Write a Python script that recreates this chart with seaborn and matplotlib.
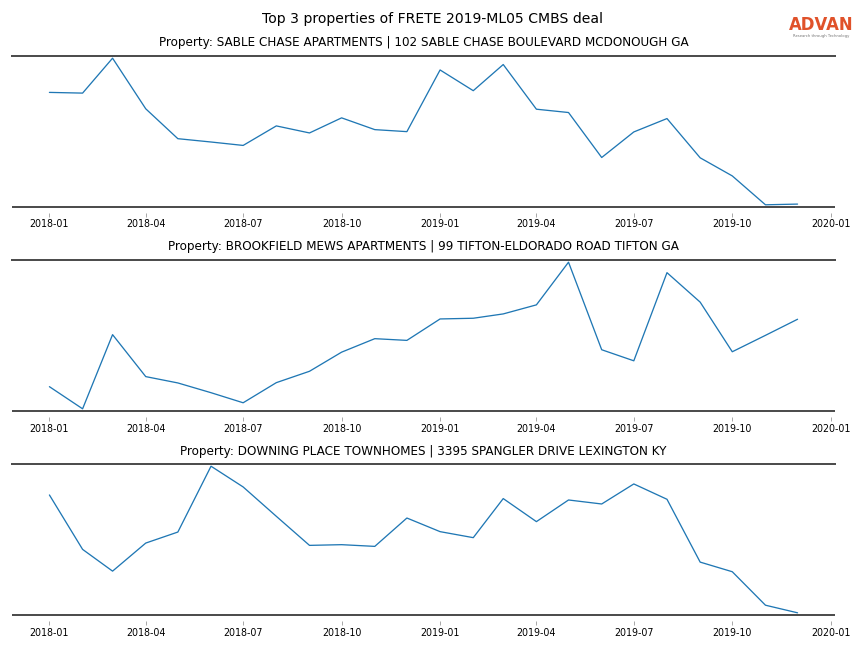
import matplotlib
matplotlib.use("Agg")
import matplotlib.pyplot as plt
import matplotlib.dates as mdates
import pandas as pd
import seaborn as sns

months = pd.date_range("2018-01-01", "2019-12-01", freq="MS")

titles = [
    "Property: SABLE CHASE APARTMENTS | 102 SABLE CHASE BOULEVARD MCDONOUGH GA",
    "Property: BROOKFIELD MEWS APARTMENTS | 99 TIFTON-ELDORADO ROAD TIFTON GA",
    "Property: DOWNING PLACE TOWNHOMES | 3395 SPANGLER DRIVE LEXINGTON KY",
]

# visits (relative units, no y axis shown)
sable_chase = [113, 112.3, 147, 96.7, 67, 63.7, 60.3, 79.7, 72.7, 87.7, 76, 74,
               135.3, 114.7, 140.7, 96.3, 93, 48.3, 73.7, 87, 48, 30, 1.3, 2]
brookfield = [24, 2, 75.7, 34, 27.7, 18, 8, 28, 39.3, 58.3, 71.7, 70,
              91.3, 92, 96.3, 105.3, 147.7, 60.7, 49.7, 137.3, 108, 58.7, 75, 91]
downing = [119.3, 65, 43.3, 71.3, 82.3, 148, 127.3, 98, 69, 69.7, 68, 96.3,
           82.7, 76.7, 115.7, 92.7, 114.3, 110.3, 130.3, 115, 52.3, 42.7, 9.3, 1.7]

series = [sable_chase, brookfield, downing]

sns.set_style("white")

fig, axes = plt.subplots(3, 1, figsize=(12, 9), dpi=72)
fig.subplots_adjust(left=0.0139, right=0.9664, top=0.9136, bottom=0.0509, hspace=0.351)

for ax, title, values in zip(axes, titles, series):
    df = pd.DataFrame({"date": months, "visits": values})
    sns.lineplot(data=df, x="date", y="visits", ax=ax, color="#1f77b4", linewidth=1.3)
    ax.margins(y=0.015)
    ax.set_title(title, fontsize=12, pad=9.5, color="black")
    ax.set_xlabel("")
    ax.set_ylabel("")
    ax.set_yticks([])
    ax.xaxis.set_major_locator(mdates.MonthLocator(bymonth=[1, 4, 7, 10]))
    ax.xaxis.set_major_formatter(mdates.DateFormatter("%Y-%m"))
    ax.tick_params(axis="x", bottom=True, direction="out", length=3.5, width=1,
                   color="#aaaaaa", labelsize=9.5, labelcolor="black", pad=3)
    for side in ["left", "right"]:
        ax.spines[side].set_visible(False)
    ax.spines["top"].set_color("#4d4d4d")
    ax.spines["top"].set_linewidth(2)
    # ticks hang a little below the bottom rule
    ax.spines["bottom"].set_position(("outward", 6))
    ax.spines["bottom"].set_visible(False)
    ax.plot([0, 1], [0, 0], transform=ax.transAxes, color="#4d4d4d",
            linewidth=2, clip_on=False, solid_capstyle="butt")

fig.suptitle("Top 3 properties of FRETE 2019-ML05 CMBS deal", fontsize=14,
             y=0.9815, color="black")

fig.text(0.9505, 0.9615, "ADVAN", color="#e0522a", fontsize=16.5, ha="center",
         va="center", family="DejaVu Sans", fontweight="semibold")
fig.text(0.9505, 0.9445, "Research through Technology", color="#777777",
         fontsize=3.8, ha="center", va="center")

fig.savefig("out.png")
